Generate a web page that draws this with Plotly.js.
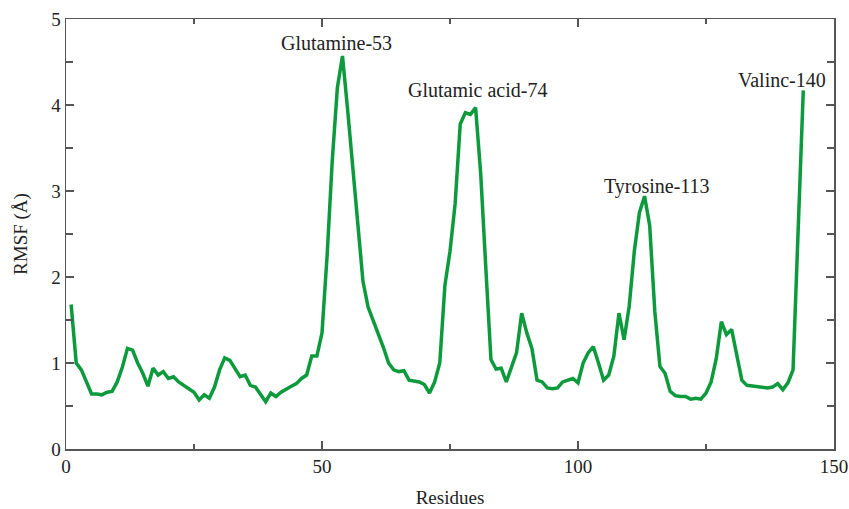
<!DOCTYPE html>
<html>
<head>
<meta charset="utf-8">
<script src="https://cdn.plot.ly/plotly-3.0.1.min.js"></script>
<style>html,body{margin:0;padding:0;background:#fff}#chart{width:849px;height:509px}</style>
</head>
<body>
<div id="chart"></div>
<script>
const residues = [1,2,3,4,5,6,7,8,9,10,11,12,13,14,15,16,17,18,19,20,21,22,23,24,25,26,27,28,29,30,31,32,33,34,35,36,37,38,39,40,41,42,43,44,45,46,47,48,49,50,51,52,53,54,55,56,57,58,59,60,61,62,63,64,65,66,67,68,69,70,71,72,73,74,75,76,77,78,79,80,81,82,83,84,85,86,87,88,89,90,91,92,93,94,95,96,97,98,99,100,101,102,103,104,105,106,107,108,109,110,111,112,113,114,115,116,117,118,119,120,121,122,123,124,125,126,127,128,129,130,131,132,133,134,135,136,137,138,139,140,141,142,143,144];
const rmsf = [1.68,1.00,0.92,0.78,0.64,0.64,0.63,0.66,0.67,0.78,0.95,1.17,1.15,1.00,0.88,0.73,0.94,0.86,0.90,0.82,0.84,0.78,0.74,0.70,0.66,0.57,0.63,0.59,0.72,0.92,1.06,1.03,0.93,0.84,0.86,0.74,0.72,0.63,0.55,0.65,0.61,0.66,0.70,0.73,0.76,0.82,0.86,1.08,1.08,1.35,2.25,3.35,4.20,4.57,3.95,3.25,2.55,1.95,1.65,1.50,1.35,1.18,1.00,0.92,0.90,0.91,0.80,0.79,0.78,0.75,0.65,0.78,1.00,1.90,2.30,2.85,3.78,3.91,3.89,3.97,3.20,2.10,1.04,0.93,0.94,0.78,0.95,1.12,1.58,1.35,1.17,0.80,0.78,0.71,0.70,0.71,0.78,0.80,0.82,0.77,1.00,1.12,1.19,1.00,0.80,0.86,1.08,1.58,1.27,1.66,2.30,2.75,2.94,2.60,1.60,0.96,0.88,0.67,0.62,0.61,0.61,0.58,0.59,0.58,0.65,0.78,1.05,1.48,1.33,1.39,1.08,0.80,0.74,0.73,0.73,0.71,0.71,0.72,0.76,0.69,0.77,0.92,2.60,4.17];
const labelTexts = ["Glutamine-53","Glutamic acid-74","Tyrosine-113","Valinc-140"];
const labelX = [52.9, 80.4, 115.4, 139.8];
const labelY = [4.72, 4.18, 3.05, 4.29];

const serif = "Liberation Serif, Times New Roman, serif";
const axisCommon = {
  showline: true, linecolor: '#555', linewidth: 1.5, mirror: 'ticks',
  ticks: 'inside', ticklen: 8, tickwidth: 1.5, tickcolor: '#555',
  showgrid: false, zeroline: false,
  tickfont: {family: serif, size: 19, color: '#222'}
};
const data = [{
  x: residues, y: rmsf, type: 'scatter', mode: 'lines',
  line: {color: '#0c9a3c', width: 3.5}, hoverinfo: 'skip'
}];
const layout = {
  width: 849, height: 509,
  margin: {l: 66, r: 15, t: 19, b: 60},
  paper_bgcolor: '#fff', plot_bgcolor: '#fff',
  showlegend: false,
  xaxis: Object.assign({}, axisCommon, {
    range: [0, 150], tickvals: [0, 50, 100, 150],
    minor: {tickvals: [25, 75, 125], ticks: 'inside', ticklen: 5, tickwidth: 1.5, tickcolor: '#555'},
    title: {text: 'Residues', font: {family: serif, size: 19, color: '#222'}, standoff: 14}
  }),
  yaxis: Object.assign({}, axisCommon, {
    range: [0, 5], tickvals: [0, 1, 2, 3, 4, 5],
    minor: {tickvals: [0.5, 1.5, 2.5, 3.5, 4.5], ticks: 'inside', ticklen: 7, tickwidth: 1.5, tickcolor: '#555'},
    title: {text: 'RMSF (Å)', font: {family: serif, size: 19, color: '#222'}, standoff: 18}
  }),
  annotations: labelTexts.map((t, i) => ({
    x: labelX[i], y: labelY[i], xref: 'x', yref: 'y', text: t, showarrow: false,
    font: {family: serif, size: 20, color: '#222'}
  }))
};
Plotly.newPlot('chart', data, layout, {displayModeBar: false, staticPlot: true});
</script>
</body>
</html>
